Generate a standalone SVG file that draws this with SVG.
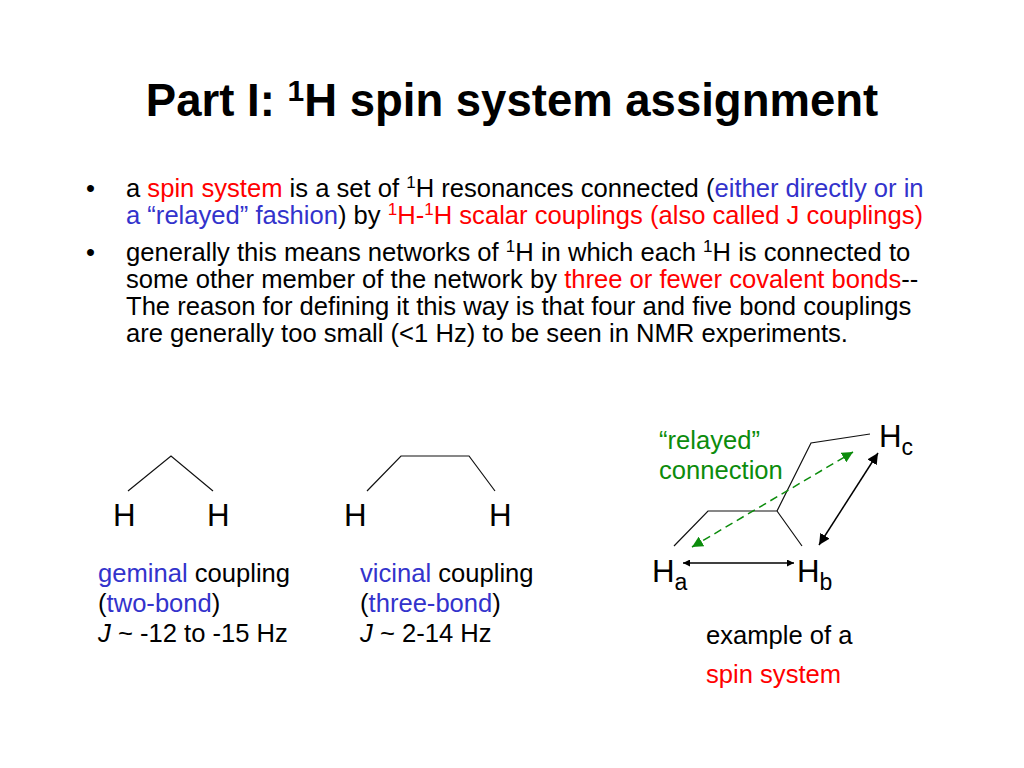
<svg xmlns="http://www.w3.org/2000/svg" width="1024" height="768" viewBox="0 0 1024 768">
<defs>
<style>
text{font-family:"Liberation Sans",Arial,sans-serif;fill:#000}
.title{font-size:45.5px;font-weight:bold}
.body{font-size:25.6px}
.hl{font-size:31.3px}
.sub{font-size:23px}
.red{fill:#f00}
.blue{fill:#3333cc}
.green{fill:#0c8c0c}
.bond{stroke:#111;stroke-width:1.2;fill:none}
.arr{stroke:#000;stroke-width:1.5;fill:none}
.garr{stroke:#0c8c0c;stroke-width:1.5;fill:none;stroke-dasharray:8 5}
</style>
<marker id="ah" viewBox="0 0 10 10" refX="10" refY="5" markerWidth="7" markerHeight="7" orient="auto-start-reverse" markerUnits="userSpaceOnUse">
<path d="M0,0 L10,5 L0,10 z" fill="#000"/>
</marker>
<marker id="gah" viewBox="0 0 10 10" refX="10" refY="5" markerWidth="11" markerHeight="11" orient="auto-start-reverse" markerUnits="userSpaceOnUse">
<path d="M0,0 L10,5 L0,10 z" fill="#0c8c0c"/>
</marker>
<marker id="ahb" viewBox="0 0 10 10" refX="10" refY="5" markerWidth="11" markerHeight="11" orient="auto-start-reverse" markerUnits="userSpaceOnUse">
<path d="M0,0 L10,5 L0,10 z" fill="#000"/>
</marker>
</defs>
<rect width="1024" height="768" fill="#fff"/>

<g id="title">
<text class="title" x="512" y="116" text-anchor="middle">Part I: <tspan font-size="30" dy="-15">1</tspan><tspan dy="15">H spin system assignment</tspan></text>
</g>

<g id="bullets" class="body">
<text class="body" x="86" y="197">•</text>
<text class="body" x="126" y="197">a <tspan class="red">spin system</tspan> is a set of <tspan font-size="17" dy="-9">1</tspan><tspan dy="9">H resonances connected (</tspan><tspan class="blue">either directly or in</tspan></text>
<text class="body" x="126" y="224"><tspan class="blue">a “relayed” fashion</tspan>) by <tspan class="red" font-size="17" dy="-9">1</tspan><tspan class="red" dy="9">H-</tspan><tspan class="red" font-size="17" dy="-9">1</tspan><tspan class="red" dy="9">H scalar couplings (also called J couplings)</tspan></text>
<text class="body" x="86" y="261">•</text>
<text class="body" x="126" y="261">generally this means networks of <tspan font-size="17" dy="-9">1</tspan><tspan dy="9">H in which each </tspan><tspan font-size="17" dy="-9">1</tspan><tspan dy="9">H is connected to</tspan></text>
<text class="body" x="126" y="288">some other member of the network by <tspan class="red">three or fewer covalent bonds</tspan>--</text>
<text class="body" x="126" y="315">The reason for defining it this way is that four and five bond couplings</text>
<text class="body" x="126" y="342">are generally too small (&lt;1 Hz) to be seen in NMR experiments.</text>
</g>

<g id="geminal">
<polyline class="bond" points="128,491 171,456 213,491"/>
<text class="hl" x="113" y="526">H</text>
<text class="hl" x="207" y="526">H</text>
<text class="body" x="98" y="582"><tspan class="blue">geminal</tspan> coupling</text>
<text class="body" x="98" y="612">(<tspan class="blue">two-bond</tspan>)</text>
<text class="body" x="98" y="642"><tspan font-style="italic">J</tspan> ~ -12 to -15 Hz</text>
</g>

<g id="vicinal">
<polyline class="bond" points="367,491 401,456 469,456 495,491"/>
<text class="hl" x="344" y="526">H</text>
<text class="hl" x="489" y="526">H</text>
<text class="body" x="360" y="582"><tspan class="blue">vicinal</tspan> coupling</text>
<text class="body" x="360" y="612">(<tspan class="blue">three-bond</tspan>)</text>
<text class="body" x="360" y="642"><tspan font-style="italic">J</tspan> ~ 2-14 Hz</text>
</g>

<g id="spin-system">
<polyline class="bond" points="674,546 708,511 777,511 802,546"/>
<polyline class="bond" points="777,511 811,443 870,434"/>
<text class="hl" x="652" y="582">H<tspan class="sub" dy="8">a</tspan></text>
<text class="hl" x="797" y="582">H<tspan class="sub" dy="8">b</tspan></text>
<text class="hl" x="879" y="447">H<tspan class="sub" dy="8">c</tspan></text>
<text class="body green" x="659" y="449">“relayed”</text>
<text class="body green" x="659" y="479">connection</text>
<text class="body" x="706" y="644">example of a</text>
<text class="body red" x="706" y="683">spin system</text>
</g>

<g id="connectors">
<line class="arr" x1="683" y1="563" x2="794" y2="563" marker-start="url(#ah)" marker-end="url(#ah)"/>
<line class="arr" x1="819" y1="545" x2="878" y2="453" marker-start="url(#ahb)" marker-end="url(#ahb)"/>
<line class="garr" x1="692" y1="547" x2="853" y2="452" marker-start="url(#gah)" marker-end="url(#gah)"/>
</g>
</svg>
